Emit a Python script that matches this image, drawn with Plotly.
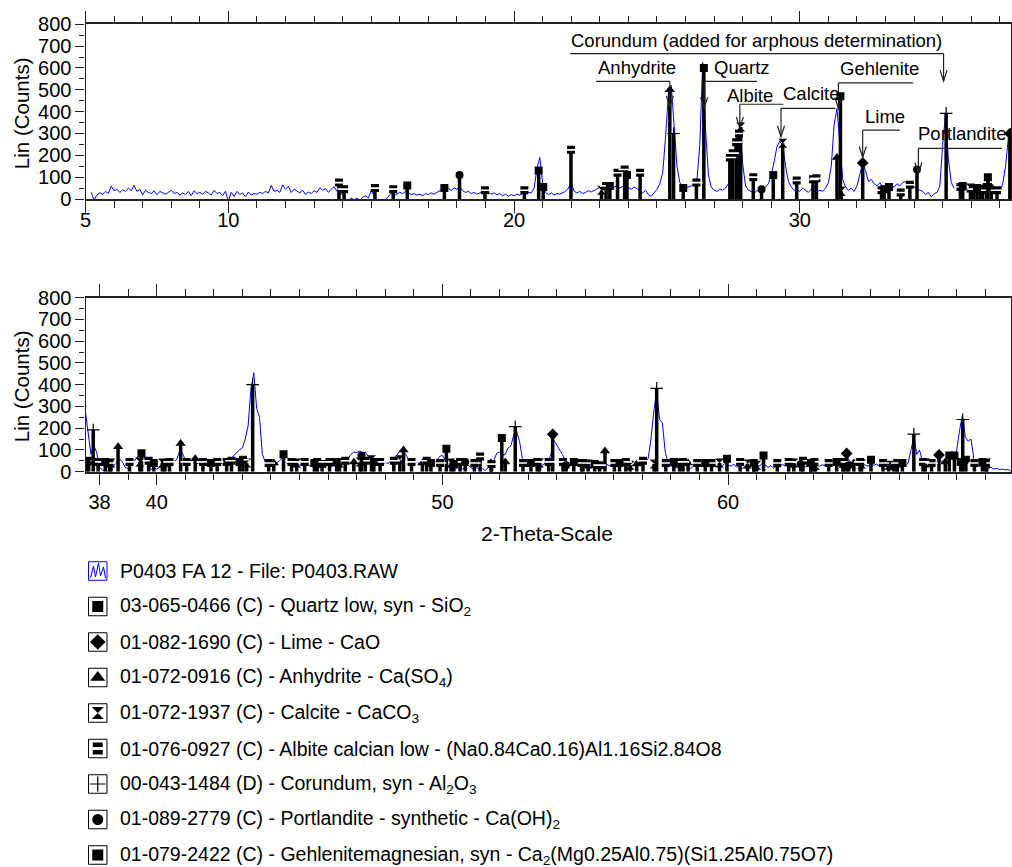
import plotly.graph_objects as go

# ---------------------------------------------------------------- data
STEP = 0.1
SEG_STARTS = [5.2, 10.0, 15.0, 20.0, 25.0, 30.0, 35.0, 37.5, 40.0, 45.0, 50.0, 55.0, 60.0, 65.0]

COUNTS_05 = [30, -5, 18, 28, 22, 35, 25, 60, 38, 45, 30, 42, 35, 50, 38, 62, 35, 45, 18, 40,
             30, 25, 38, 20, 35, 28, 22, 30, 40, 25, 30, 18, 28, 20, 35, 15, 38, 25, 30, 22,
             35, 28, 18, 40, 25, 30, 15, 35]
COUNTS_10 = [-10, 30, 12, 35, 20, 28, 10, 32, 18, 25, 22, 30, 25, 35, 28, 62, 35, 40, 30, 65,
             45, 58, 30, 45, 35, 28, 40, 20, 32, 25, 38, 30, 52, 40, 48, 30, 45, 55, 35, 25,
             20, 0, -10, 5, -5, 5, -8, 8, 15, 5]
COUNTS_15 = [40, 18, -10, -20, -15, -5, 10, 28, 15, 22, 30, 25, 35, 28, 20, 25, 18, 22, 15, 25,
             20, 28, 22, 30, 38, 45, 35, 48, 40, 50, 45, 55, 38, 30, 35, 25, 30, 22, 28, 35,
             25, 30, 22, 28, 20, 25, 15, 22, 12, 20]
COUNTS_20 = [15, 22, 18, 25, 20, 30, 28, 50, 140, 190, 70, 30, 20, 28, 18, 25, 22, 30, 35, 50,
             75, 35, 28, 35, 25, 30, 38, 32, 40, 45, 55, 60, 48, 52, 45, 55, 62, 50, 58, 65,
             52, 45, 55, 48, 35, 28, 40, 20, 12, 30]
COUNTS_25 = [45, 70, 120, 280, 480, 520, 330, 150, 75, 55, 50, 55, 60, 70, 90, 250, 625, 320, 110, 55,
             40, 35, 45, 40, 50, 70, 110, 200, 300, 335, 160, 60, 40, 35, 25, 40, 30, 45, 55, 70,
             110, 170, 240, 265, 245, 150, 80, 55, 40, 45]
COUNTS_30 = [35, 50, 40, 30, 45, 38, 30, 40, 35, 50, 75, 150, 340, 415, 230, 90, 55, 40, 50, 35,
             60, 120, 165, 130, 80, 90, 70, 60, 75, 55, 65, 50, 60, 55, 70, 60, 75, 80, 60, 70,
             55, 50, 40, 35, 20, 30, 10, 25, 30, 60]
COUNTS_35 = [250, 390, 180, 75, 50, 60, 45, 55, 40, 50, 45, 55, 40, 50, 35, 60, 85, 55, 40, 50,
             30, 70, 150, 285, 300]
COUNTS_375 = [284, 170, 80, 120, 90, 20, 8, 5, 3, 10, 25, 45, 60, 45, 20, 15, 30, 45, 60, 75,
              95, 55, 30, 10, 15]
COUNTS_40 = [12, 20, 30, 38, 35, 40, 45, 55, 95, 85, 55, 45, 50, 40, 35, 42, 38, 30, 35, 40,
             35, 38, 30, 42, 38, 45, 55, 75, 90, 100, 110, 150, 210, 380, 455, 290, 250, 80, 45, 40,
             35, 45, 40, 50, 65, 45, 35, 38, 30, 35]
COUNTS_45 = [30, 35, 28, 32, 25, 30, 22, 28, 35, 25, 30, 22, 28, 20, 25, 35, 45, 60, 80, 90,
             88, 95, 85, 90, 70, 50, 40, 30, 45, 35, 42, 38, 50, 60, 75, 95, 105, 80, 60, 45,
             40, 45, 35, 30, 40, 25, 30, 35, 50, 70]
COUNTS_50 = [75, 50, 30, 10, 8, 15, 25, 12, 20, 30, 18, 10, 20, 8, 15, 5, 20, 25, 50, 85,
             90, 75, 80, 110, 120, 170, 185, 140, 60, 40, 35, 30, 25, 35, 28, 30, 40, 45, 80, 145,
             125, 100, 80, 50, 35, 30, 25, 35, 28, 30]
COUNTS_55 = [20, 28, 35, 25, 30, 22, 35, 40, 30, 25, 32, 28, 22, 35, 28, 30, 25, 32, 28, 35,
             30, 45, 60, 150, 280, 370, 240, 225, 90, 40, 25, 30, 18, 28, 22, 30, 25, 15, 28, 20,
             30, 25, 35, 28, 22, 30, 25, 35, 28, 40]
COUNTS_60 = [30, 25, 35, 20, 30, 15, 28, 22, 30, 18, 35, 25, 40, 30, 20, 28, 15, 30, 22, 35,
             25, 30, 20, 28, 35, 25, 30, 22, 28, 35, 45, 30, 25, 32, 28, 35, 30, 40, 45, 35,
             50, 45, 60, 40, 35, 45, 30, 38, 30, 25]
COUNTS_65 = [40, 30, 35, 25, 32, 28, 35, 25, 30, 20, 28, 35, 25, 40, 100, 160, 80, 100, 45, 30,
             25, 40, 30, 45, 55, 45, 50, 45, 60, 55, 100, 190, 260, 160, 140, 150, 60, 35, 25, 20,
             18, 15, 20, 12, 15, 10, 12, 8, 10, 2]
SEGMENTS = [COUNTS_05, COUNTS_10, COUNTS_15, COUNTS_20, COUNTS_25, COUNTS_30, COUNTS_35,
            COUNTS_375, COUNTS_40, COUNTS_45, COUNTS_50, COUNTS_55, COUNTS_60, COUNTS_65]

# reference-pattern sticks (2-theta, height)
QUARTZ_POS = [20.86, 26.64, 36.54, 39.47, 40.29, 42.45, 45.79, 50.14, 54.87, 55.33, 59.96, 64.03, 65.79, 67.74, 68.14, 68.32]
QUARTZ_H = [130, 600, 55, 85, 40, 45, 35, 105, 40, 35, 60, 35, 30, 75, 45, 55]
LIME_POS = [32.20, 37.35, 53.86, 64.15, 67.38]
LIME_H = [165, 300, 172, 84, 77]
ANHYDRITE_POS = [25.45, 31.30, 36.00, 36.70, 38.65, 40.84, 41.35, 44.10, 46.90, 48.64, 49.30, 51.70,
                 52.20, 55.69, 56.80, 58.60, 60.90, 62.90, 64.40, 65.90, 67.60]
ANHYDRITE_H = [500, 190, 45, 55, 115, 130, 60, 40, 45, 100, 40, 40,
               45, 95, 35, 40, 35, 35, 40, 30, 45]
CALCITE_POS = [23.06, 27.93, 29.40, 31.45, 35.97, 36.40, 38.40, 39.41, 40.20, 43.15, 44.90, 46.40,
               47.12, 47.52, 48.51, 50.30, 53.40, 55.10, 56.57, 57.41, 58.30, 59.70, 60.68, 61.00,
               62.30, 63.06, 64.67, 65.62, 66.90, 69.05]
CALCITE_H = [40, 330, 255, 35, 50, 45, 40, 45, 40, 40, 40, 40,
             45, 55, 55, 40, 40, 35, 30, 35, 40, 40, 35, 30,
             40, 30, 35, 30, 40, 40]
ALBITE_POS = [13.87, 14.05, 15.13, 15.77, 18.98, 20.36, 21.99, 23.22, 23.62, 23.87, 24.41, 26.38,
              27.55, 27.65, 27.77, 27.87, 28.37, 29.89, 30.46, 30.58, 32.86, 33.53, 33.85,
              35.62, 36.08, 36.32, 36.90, 37.62, 37.95, 38.35, 39.05, 39.72, 40.45, 41.05, 41.62,
              42.12, 42.62, 43.02, 43.92, 44.72, 45.18, 45.62, 46.05, 46.60, 47.30, 47.82, 48.30,
              48.92, 49.45, 49.92, 50.62, 51.12, 51.32, 51.72, 52.82, 53.32, 53.72, 54.22, 54.92,
              55.50, 56.02, 56.42, 57.02, 57.82, 58.42, 58.92, 59.42, 60.42, 61.72, 62.12, 62.62,
              63.02, 63.52, 64.02, 64.62, 65.42, 65.92, 66.82, 67.12, 68.62, 69.02]
ALBITE_H = [75, 45, 50, 45, 40, 40, 225, 60, 120, 135, 120, 75,
            190, 210, 260, 300, 100, 85, 90, 95, 40, 30, 65,
            55, 45, 40, 40, 50, 45, 40, 45, 50, 45, 45, 45,
            45, 50, 55, 40, 45, 45, 45, 45, 50, 50, 45, 50,
            45, 50, 40, 45, 40, 70, 35, 40, 45, 45, 45, 40,
            30, 40, 45, 50, 40, 45, 40, 40, 45, 40, 45, 50,
            45, 40, 45, 45, 40, 40, 45, 40, 40, 40]
CORUNDUM_POS = [25.58, 35.12, 37.78, 43.36, 52.55, 57.50, 66.50, 68.21]
CORUNDUM_H = [300, 392, 192, 400, 207, 383, 173, 240]
PORTLANDITE_POS = [18.09, 28.66, 34.10, 47.17, 50.80, 54.33, 62.54, 64.22]
PORTLANDITE_H = [110, 45, 135, 75, 45, 30, 35, 30]
GEHLENITE_POS = [16.26, 17.56, 21.02, 23.35, 23.95, 25.92, 29.07, 31.42, 32.95, 33.12, 35.70, 36.20,
                 36.58, 37.55, 38.20, 39.90, 41.90, 42.90, 44.44, 45.52, 46.30, 47.60, 49.60, 50.40,
                 52.08, 53.10, 54.60, 56.20, 58.10, 59.20, 60.90, 61.24, 62.90, 63.80, 65.00, 66.10,
                 67.92, 68.90]
GEHLENITE_H = [62, 50, 55, 60, 110, 50, 110, 470, 45, 55, 60, 50,
               100, 45, 45, 40, 40, 45, 80, 40, 45, 45, 40, 35,
               155, 40, 45, 40, 45, 40, 40, 75, 40, 45, 55, 40,
               75, 45]

PHASES = ['Quartz', 'Lime', 'Anhydrite', 'Calcite', 'Albite', 'Corundum', 'Portlandite', 'Gehlenite']
PHASE_POS = [QUARTZ_POS, LIME_POS, ANHYDRITE_POS, CALCITE_POS, ALBITE_POS, CORUNDUM_POS, PORTLANDITE_POS, GEHLENITE_POS]
PHASE_H = [QUARTZ_H, LIME_H, ANHYDRITE_H, CALCITE_H, ALBITE_H, CORUNDUM_H, PORTLANDITE_H, GEHLENITE_H]

LEGEND_TEXT = [
    'P0403 FA 12 - File: P0403.RAW',
    '03-065-0466 (C) - Quartz low, syn - SiO<sub>2</sub>',
    '01-082-1690 (C) - Lime - CaO',
    '01-072-0916 (C) - Anhydrite - Ca(SO<sub>4</sub>)',
    '01-072-1937 (C) - Calcite - CaCO<sub>3</sub>',
    '01-076-0927 (C) - Albite calcian low - (Na0.84Ca0.16)Al1.16Si2.84O8',
    '00-043-1484 (D) - Corundum, syn - Al<sub>2</sub>O<sub>3</sub>',
    '01-089-2779 (C) - Portlandite - synthetic - Ca(OH)<sub>2</sub>',
    '01-079-2422 (C) - Gehlenitemagnesian, syn - Ca<sub>2</sub>(Mg0.25Al0.75)(Si1.25Al0.75O7)',
]

LABEL_TEXT = ['Corundum (added for arphous determination)', 'Anhydrite', 'Quartz', 'Albite',
              'Calcite', 'Gehlenite', 'Lime', 'Portlandite']
LABEL_TARGET = [35.03, 25.45, 26.65, 27.90, 29.34, 31.35, 32.20, 34.15]

TOP_TICKS = [5, 10, 20, 30]
BOTTOM_TICKS = [38, 40, 50, 60]

# ---------------------------------------------------------------- styles / layout
W, H = 1012, 867
FONT = 'Liberation Sans, Arial, sans-serif'
BLUE = '#0000FF'
AX = '#222222'
PX0, PX1 = 85.5, 1011.0
TOP_PX = (24.3, 199.0)
BOT_PX = (297.7, 471.7)

STYLE = {
    'Quartz': dict(symbol='square', size=8),
    'Lime': dict(symbol='diamond', size=9),
    'Anhydrite': dict(symbol='triangle-up', size=9),
    'Calcite': dict(symbol='hourglass', size=9),
    'Albite': dict(symbol='square', size=8),
    'Corundum': dict(symbol='cross-thin', size=9),
    'Portlandite': dict(symbol='circle', size=8),
    'Gehlenite': dict(symbol='square', size=8),
}

# label geometry in data units: (text x, text y, anchor, line x0, line x1, line y, tip y)
LABEL_GEOM = [
    (28.50, 724, 'center', 21.96, None, 666, 540),
    (22.87, 601, 'left', 22.87, None, 539, 422),
    (26.93, 601, 'left', None, 28.50, 539, 416),
    (27.38, 473, 'left', None, 29.42, 434, 325),
    (29.34, 484, 'left', None, 31.23, 415, 285),
    (31.35, 597, 'left', None, 33.97, 532, 415),
    (32.20, 378, 'left', None, 33.50, 315, 190),
    (34.08, 299, 'left', None, 37.07, 232, 117),
]


def ydom(t, b):
    return [1 - b / H, 1 - t / H]


def px_x(v):
    return v / W


def px_y(v):
    return 1 - v / H


fig = go.Figure()

two_theta, counts = [], []
for s, seg in zip(SEG_STARTS, SEGMENTS):
    for i, c in enumerate(seg):
        two_theta.append(round(s + i * STEP, 3))
        counts.append(c)

for xa, ya in [('x', 'y'), ('x2', 'y2')]:
    fig.add_trace(go.Scatter(x=two_theta, y=counts, mode='lines', line=dict(color=BLUE, width=1),
                             xaxis=xa, yaxis=ya, showlegend=False, hoverinfo='skip'))
    for name, pos, hts in zip(PHASES, PHASE_POS, PHASE_H):
        sx, sy = [], []
        for p, h in zip(pos, hts):
            sx += [p, p, None]
            sy += [0, h, None]
        fig.add_trace(go.Scatter(x=sx, y=sy, mode='lines', line=dict(color='black', width=3.5),
                                 xaxis=xa, yaxis=ya, showlegend=False, hoverinfo='skip'))
        st = STYLE[name]
        mk = dict(symbol=st['symbol'], size=st['size'], color='black')
        if name == 'Corundum':
            mk['line'] = dict(color='black', width=1.2)
        fig.add_trace(go.Scatter(x=pos, y=hts, mode='markers', marker=mk,
                                 xaxis=xa, yaxis=ya, showlegend=False, hoverinfo='skip'))
        if name == 'Albite':
            fig.add_trace(go.Scatter(x=pos, y=hts, mode='markers',
                                     marker=dict(symbol='line-ew', size=9, line=dict(color='white', width=1.6)),
                                     xaxis=xa, yaxis=ya, showlegend=False, hoverinfo='skip'))

shapes = []
annotations = []

for txt, tgt, (tx, ty, anc, lx0, lx1, ly, tip) in zip(LABEL_TEXT, LABEL_TARGET, LABEL_GEOM):
    x0 = lx0 if lx0 is not None else tgt
    x1 = lx1 if lx1 is not None else tgt
    shapes.append(dict(type='line', xref='x', yref='y', x0=x0, x1=x1, y0=ly, y1=ly,
                       line=dict(color=AX, width=1.2)))
    shapes.append(dict(type='line', xref='x', yref='y', x0=tgt, x1=tgt, y0=ly, y1=tip,
                       line=dict(color=AX, width=1.2)))
    shapes.append(dict(type='path', xref='x', yref='y', xsizemode='pixel', ysizemode='pixel',
                       xanchor=tgt, yanchor=tip, path='M-3.5,11 L0,0 L3.5,11',
                       line=dict(color=AX, width=1.2)))
    annotations.append(dict(xref='x', yref='y', x=tx, y=ty, text=txt, showarrow=False,
                            xanchor=anc, yanchor='middle', font=dict(size=18.5, color='black', family=FONT)))

for cy in [(TOP_PX[0] + TOP_PX[1]) / 2 + 2, (BOT_PX[0] + BOT_PX[1]) / 2 + 2]:
    annotations.append(dict(xref='paper', yref='paper', x=px_x(21.5), y=px_y(cy), text='Lin (Counts)',
                            textangle=-90, showarrow=False, xanchor='center', yanchor='middle',
                            font=dict(size=20.5, color='black', family=FONT)))
annotations.append(dict(xref='paper', yref='paper', x=px_x(547), y=px_y(533), text='2-Theta-Scale',
                        showarrow=False, xanchor='center', yanchor='middle',
                        font=dict(size=21, color='black', family=FONT)))

# legend (markers on a hidden pixel-scaled axis pair)
LEG_BX, LEG_BOX, LEG_Y0, LEG_DY, LEG_TX = 88.5, 18.5, 571.0, 35.5, 118.0
for i, txt in enumerate(LEGEND_TEXT):
    cy = LEG_Y0 + i * LEG_DY
    bx = LEG_BX
    cx = bx + LEG_BOX / 2
    shapes.append(dict(type='rect', xref='paper', yref='paper', x0=px_x(bx), x1=px_x(bx + LEG_BOX),
                       y0=px_y(cy + LEG_BOX / 2), y1=px_y(cy - LEG_BOX / 2),
                       line=dict(color=BLUE if i == 0 else 'black', width=1), fillcolor='rgba(0,0,0,0)'))
    annotations.append(dict(xref='paper', yref='paper', x=px_x(LEG_TX), y=px_y(cy), text=txt, showarrow=False,
                            xanchor='left', yanchor='middle', font=dict(size=19.5, color='black', family=FONT)))
    if i == 0:
        zz = [(2, 7), (5, -5), (7, 6), (10, -8), (12, 5), (15, -4), (17, 7)]
        path = 'M' + ' L'.join(f'{px_x(bx + a):.5f},{px_y(cy + b):.5f}' for a, b in zz)
        shapes.append(dict(type='path', xref='paper', yref='paper', path=path, line=dict(color=BLUE, width=1)))
        continue
    name = PHASES[i - 1]
    if name == 'Albite':
        for ya0, ya1 in [(cy - 6, cy - 1.5), (cy + 1.5, cy + 6)]:
            shapes.append(dict(type='rect', xref='paper', yref='paper', x0=px_x(cx - 5), x1=px_x(cx + 5),
                               y0=px_y(ya1), y1=px_y(ya0), fillcolor='black', line=dict(width=0)))
        continue
    st = STYLE[name]
    mk = dict(symbol=st['symbol'], size=st['size'] + 3, color='black')
    if name == 'Corundum':
        mk['line'] = dict(color='black', width=1.2)
        mk['size'] = 11
    if name == 'Anhydrite':
        mk['size'] = 13
    fig.add_trace(go.Scatter(x=[cx], y=[cy], mode='markers', marker=mk, xaxis='x3', yaxis='y3',
                             showlegend=False, hoverinfo='skip', cliponaxis=False))

tickfont = dict(size=20, color='black', family=FONT)
minor_x = dict(dtick=1, tick0=0, ticks='outside', ticklen=7, tickwidth=1, tickcolor=AX, showgrid=False)
minor_y = dict(dtick=50, tick0=0, ticks='outside', ticklen=5, tickwidth=1, tickcolor=AX, showgrid=False)
xcommon = dict(showline=True, linecolor=AX, linewidth=1.5, mirror='ticks', ticks='outside', ticklen=12,
               tickwidth=1.2, tickcolor=AX, showgrid=False, zeroline=False, tickfont=tickfont,
               minor=minor_x, domain=[PX0 / W, PX1 / W], fixedrange=True)
ycommon = dict(showline=True, linecolor=AX, linewidth=1.2, mirror=True, ticks='outside', ticklen=9,
               tickwidth=1.2, tickcolor=AX, showgrid=False, zeroline=False, tickfont=tickfont,
               minor=minor_y, range=[0, 800], tickvals=list(range(0, 801, 100)), fixedrange=True)

fig.update_layout(
    width=W, height=H, margin=dict(l=0, r=0, t=0, b=0, pad=0, autoexpand=False),
    paper_bgcolor='white', plot_bgcolor='rgba(0,0,0,0)', showlegend=False, hovermode=False,
    font=dict(family=FONT, color='black'),
    xaxis=dict(**xcommon, anchor='y', range=[5.0, 37.39], ticklabelstandoff=-10, tickvals=TOP_TICKS),
    yaxis=dict(**ycommon, anchor='x', domain=ydom(*TOP_PX)),
    xaxis2=dict(**xcommon, anchor='y2', range=[37.51, 69.90], tickvals=BOTTOM_TICKS),
    yaxis2=dict(**ycommon, anchor='x2', domain=ydom(*BOT_PX)),
    xaxis3=dict(domain=[0, 1], range=[0, W], visible=False, anchor='y3', fixedrange=True),
    yaxis3=dict(domain=[0, 1], range=[H, 0], visible=False, anchor='x3', fixedrange=True),
    shapes=shapes, annotations=annotations,
)

fig.write_html('out.html', config={'displayModeBar': False},
               post_script="document.body.style.margin='0';document.body.style.overflow='hidden';")
